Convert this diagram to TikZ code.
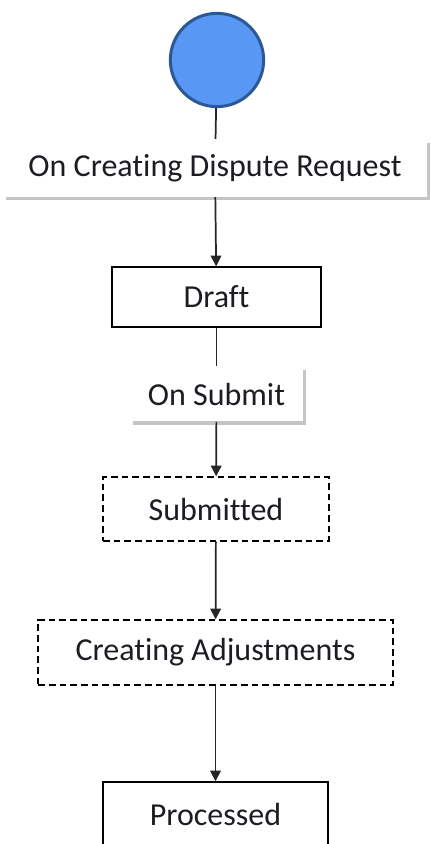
\documentclass[tikz,border=0pt]{standalone}
\usepackage{fontspec}
\setmainfont{Carlito}[Ligatures=NoCommon]
\usetikzlibrary{arrows.meta,shadows}

\definecolor{startfill}{RGB}{88,152,244}
\definecolor{startdraw}{RGB}{44,88,150}
\definecolor{txtcol}{RGB}{28,28,34}

\tikzset{every picture/.style={line width=0.75pt}}
\tikzset{
  start/.style={circle,draw=startdraw,fill=startfill,line width=2.25pt,minimum size=70pt,inner sep=0pt},
  trigger/.style={rectangle,fill=white,inner sep=0pt,text=txtcol,font=\fontsize{24}{28}\selectfont,
    drop shadow={shadow xshift=2pt,shadow yshift=-2.5pt,fill=black!45,opacity=0.5}},
  statebox/.style={rectangle,draw,fill=white,line width=1.1pt,inner sep=0pt,text=txtcol,font=\fontsize{24}{28}\selectfont},
  pendbox/.style={statebox,dash pattern={on 5pt off 3pt}},
  link/.style={draw=black!85,line width=1.3pt},
  flow/.style={link,-{Triangle[width=8pt,length=8pt]}}
}

\begin{document}
\begin{tikzpicture}[x=0.75pt,y=0.75pt,yscale=-1,xscale=1]
\useasboundingbox (0,0) rectangle (430,844);
\clip (0,0) rectangle (430,844);

% Start state
\node [start] (init) at (217,60) {};

% Trigger labels
\node [trigger,minimum width=318pt,minimum height=43pt] (oncreate) at (215,168) {On Creating Dispute Request};
\node [trigger,minimum width=130pt,minimum height=41pt] (onsubmit) at (216.5,394) {On Submit};

% States
\node [statebox,minimum width=157pt,minimum height=45pt] (draft) at (216.5,297) {Draft};
\node [pendbox,minimum width=169.5pt,minimum height=48pt] (submitted) at (216,509) {Submitted};
\node [pendbox,minimum width=266pt,minimum height=48.75pt] (adjust) at (215.5,652.5) {Creating Adjustments};
\node [statebox,minimum width=169pt,minimum height=48pt] (processed) at (215.5,814) {Processed};

% Transitions
\draw [link] (init) -- (oncreate);
\draw [flow] (oncreate) -- (draft);
\draw [link] (draft) -- (onsubmit);
\draw [flow] (onsubmit) -- (submitted);
\draw [flow] (submitted) -- (adjust);
\draw [flow] (adjust) -- (processed);

\end{tikzpicture}
\end{document}
